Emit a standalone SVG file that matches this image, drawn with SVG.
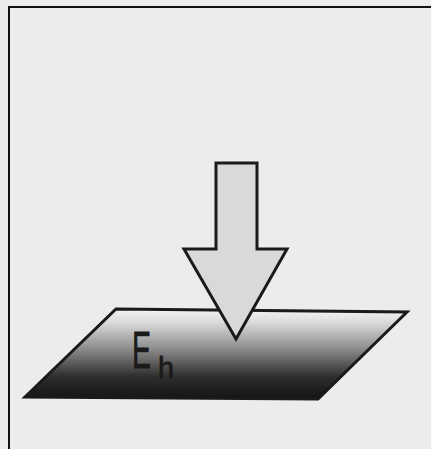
<svg xmlns="http://www.w3.org/2000/svg" width="431" height="449" viewBox="0 0 431 449">
<defs>
<linearGradient id="planeGrad" x1="0" y1="0" x2="0" y2="1">
<stop offset="0" stop-color="#f4f4f4"/>
<stop offset="0.15" stop-color="#dadada"/>
<stop offset="0.45" stop-color="#8a8a8a"/>
<stop offset="0.75" stop-color="#2e2e2e"/>
<stop offset="1" stop-color="#141414"/>
</linearGradient>
<style>
.edge{stroke:#1a1a1a;stroke-width:3;stroke-linejoin:miter}
.lbl{font-family:"Liberation Sans",Arial,sans-serif;fill:#1a1a1a;stroke:#1a1a1a;stroke-width:0.8}
</style>
</defs>
<rect x="0" y="0" width="431" height="449" fill="#ececec"/>
<path d="M9,449 V7 H431" fill="none" stroke="#111" stroke-width="2"/>
<g id="plane">
<polygon class="edge" points="116,309 407,312 318,399 25,397" fill="url(#planeGrad)"/>
<text class="lbl" x="132" y="368" font-size="52"><tspan textLength="19" lengthAdjust="spacingAndGlyphs">E</tspan><tspan x="158" y="378" font-size="29" textLength="16" lengthAdjust="spacingAndGlyphs">h</tspan></text>
</g>
<g id="arrow">
<polygon class="edge" points="216,163 257,163 257,249 287,249 236,339 184,249 216,249" fill="#d9d9d9"/>
</g>
</svg>
